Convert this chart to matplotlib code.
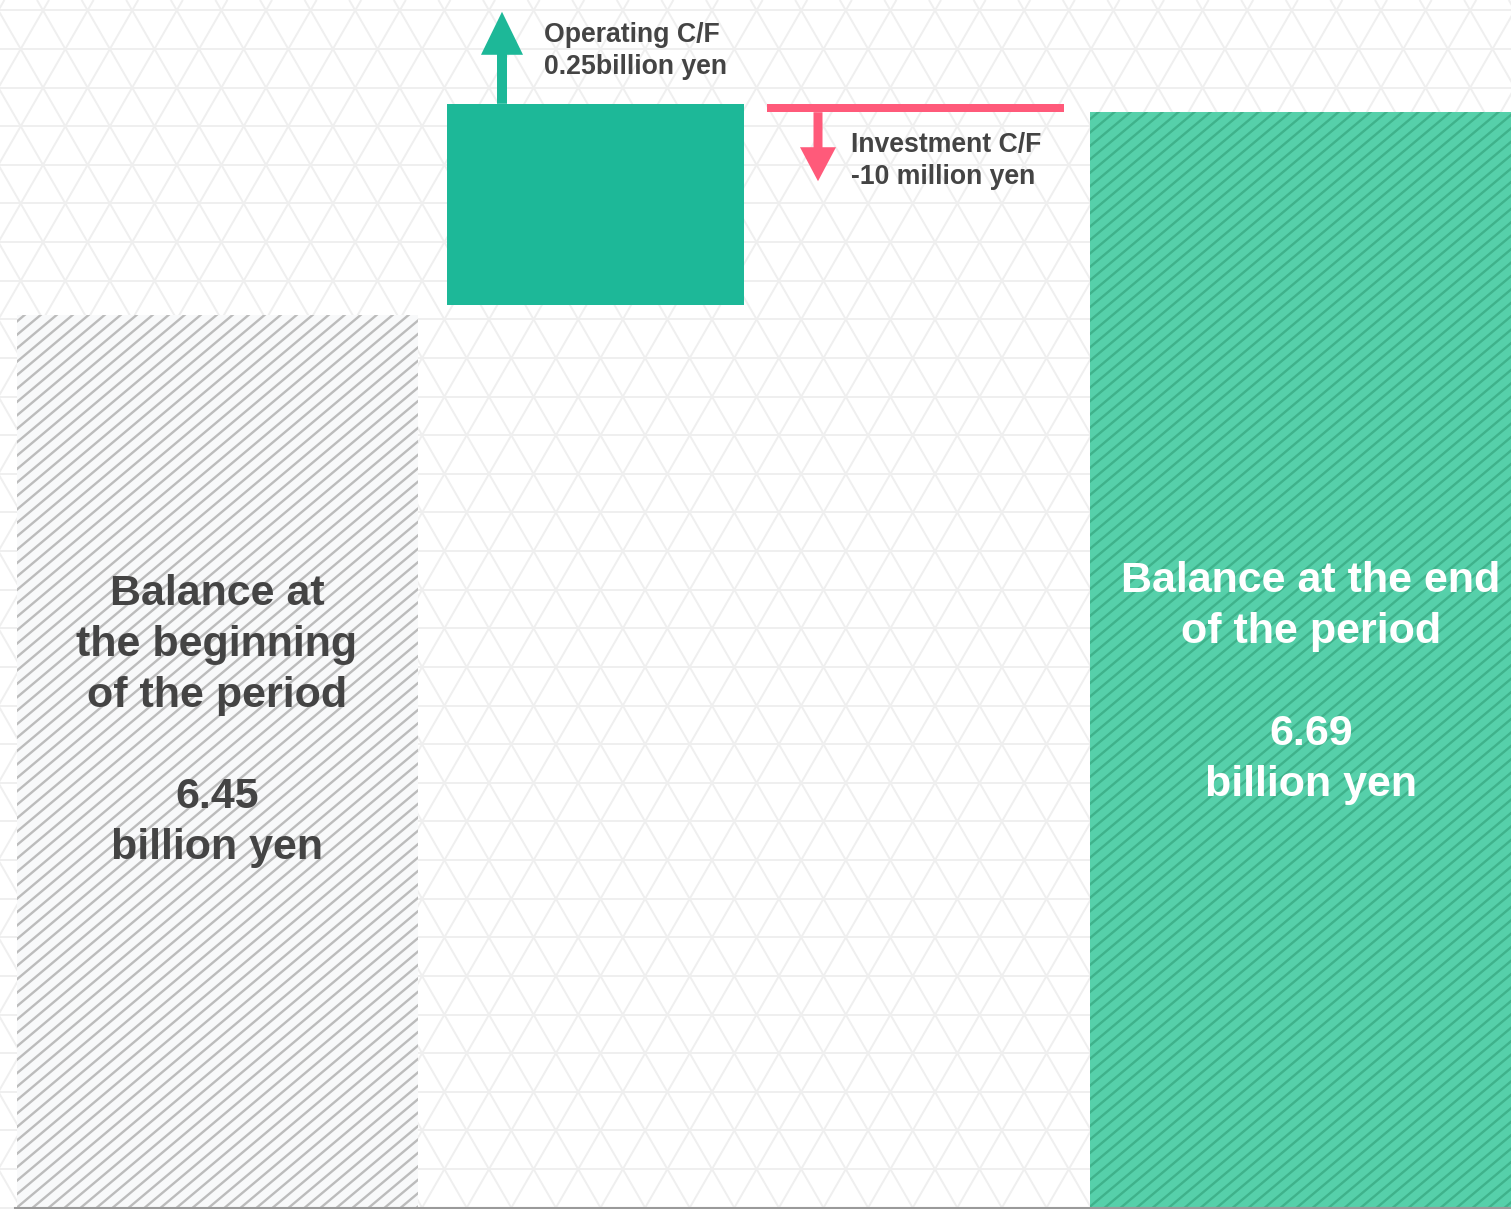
import numpy as np
import matplotlib
matplotlib.use("Agg")
from matplotlib import pyplot as plt
from matplotlib import transforms
from matplotlib.patches import FancyArrow
from matplotlib.collections import LineCollection

# values (billion yen)
begin_balance = 6.45
operating_cf = 0.25
investment_cf = -0.01
end_balance = 6.69

begin_label = "Balance at\nthe beginning\nof the period\n\n6.45\nbillion yen"
end_label = "Balance at the end\nof the period\n\n6.69\nbillion yen"
operating_label = "Operating C/F\n0.25billion yen"
investment_label = "Investment C/F\n-10 million yen"

W, H = 1511, 1209
plt.rcParams['font.family'] = ['Liberation Sans', 'DejaVu Sans']

fig = plt.figure(figsize=(W / 100, H / 100), dpi=100)
fig.patch.set_facecolor('white')

# background triangle lattice
bg = fig.add_axes([0, 0, 1, 1], zorder=-1)
bg.set_xlim(0, W)
bg.set_ylim(H, 0)
bg.axis('off')
s = 44.6
h = s * np.sqrt(3) / 2
r3 = np.sqrt(3)
segs = []
for y in np.arange(10.3, H + h, h):
    segs.append([(0, y), (W, y)])
for c in np.arange(-7.6 - 40 * s, W + 40 * s, s):
    segs.append([(c, 0), (c + H / r3, H)])
for c in np.arange(49.0 - 40 * s, W + 40 * s, s):
    segs.append([(c, 0), (c - H / r3, H)])
bg.add_collection(LineCollection(segs, colors='#efefef', linewidths=1.4))

# main axes, x in pixel units
ax = fig.add_axes([15 / W, 1.5 / H, (W - 15) / W, 1207.5 / H])
ax.set_xlim(15, W)
ax.set_ylim(5.392, 6.823)
ax.set_facecolor('none')
for sp in ['top', 'left', 'right']:
    ax.spines[sp].set_visible(False)
ax.spines['bottom'].set_color('#9a9a9a')
ax.spines['bottom'].set_linewidth(1.5)
ax.set_xticks([])
ax.set_yticks([])

base = 5.392
gap = 0.012

# beginning balance
b1 = ax.bar(17, begin_balance - base, width=401, bottom=base, align='edge',
            color='#f8f9fa', linewidth=0, zorder=1)
# operating cash flow
ax.bar(447, operating_cf - gap, width=297, bottom=begin_balance + gap, align='edge',
       color='#1db898', linewidth=0)
# investment cash flow
top_after_op = begin_balance + operating_cf
ax.bar(767, investment_cf, width=297, bottom=top_after_op, align='edge',
       color='#ff5a7a', linewidth=0)
# ending balance
b4 = ax.bar(1090, end_balance - base, width=442, bottom=base, align='edge',
            color='#56d0aa', linewidth=0, zorder=1)

# diagonal stripes (pixel space, clipped to the bars)
pix = transforms.Affine2D().scale(1, -1).translate(0, H)
t = np.tan(np.radians(40))
stripes = [[(c, H), (c + H / t, 0)] for c in np.arange(-H / t, W + 20, 16)]
for bar, col in [(b1[0], '#bcbcbc'), (b4[0], '#3fb28b')]:
    lc = LineCollection(stripes, colors=col, linewidths=1.7, transform=pix, zorder=2)
    ax.add_collection(lc, autolim=False)
    lc.set_clip_path(bar)


def arrow_from(x, y, dy, color, width, head_w, head_l):
    x0, y0 = ax.transData.transform((x, y))
    tr = transforms.Affine2D().translate(x0, y0)
    arr = FancyArrow(0, 0, 0, dy, width=width, head_width=head_w, head_length=head_l,
                     length_includes_head=True, color=color, linewidth=0,
                     transform=tr, zorder=5)
    fig.add_artist(arr)


arrow_from(502, top_after_op, 92, '#1db898', 10, 42, 43)
arrow_from(818, top_after_op + investment_cf, -69, '#ff5a7a', 9, 36, 34)

xfrac = transforms.blended_transform_factory(ax.transData, ax.transAxes)
ax.text(217, 1 - 721 / 1207.5, begin_label, transform=xfrac, ha='center', va='center',
        fontsize=31, fontweight='bold', color='#444444', linespacing=1.35, zorder=4)
ax.text(1311, 1 - 683 / 1207.5, end_label, transform=xfrac, ha='center', va='center',
        fontsize=31, fontweight='bold', color='white', linespacing=1.35, zorder=4)
ax.text(544, 1 - 51 / 1207.5, operating_label, transform=xfrac, ha='left', va='center',
        fontsize=19.2, fontweight='bold', color='#444444', linespacing=1.28, zorder=4)
ax.text(851, 1 - 161 / 1207.5, investment_label, transform=xfrac, ha='left', va='center',
        fontsize=19.2, fontweight='bold', color='#444444', linespacing=1.28, zorder=4)

fig.savefig('out.png', dpi=100)
